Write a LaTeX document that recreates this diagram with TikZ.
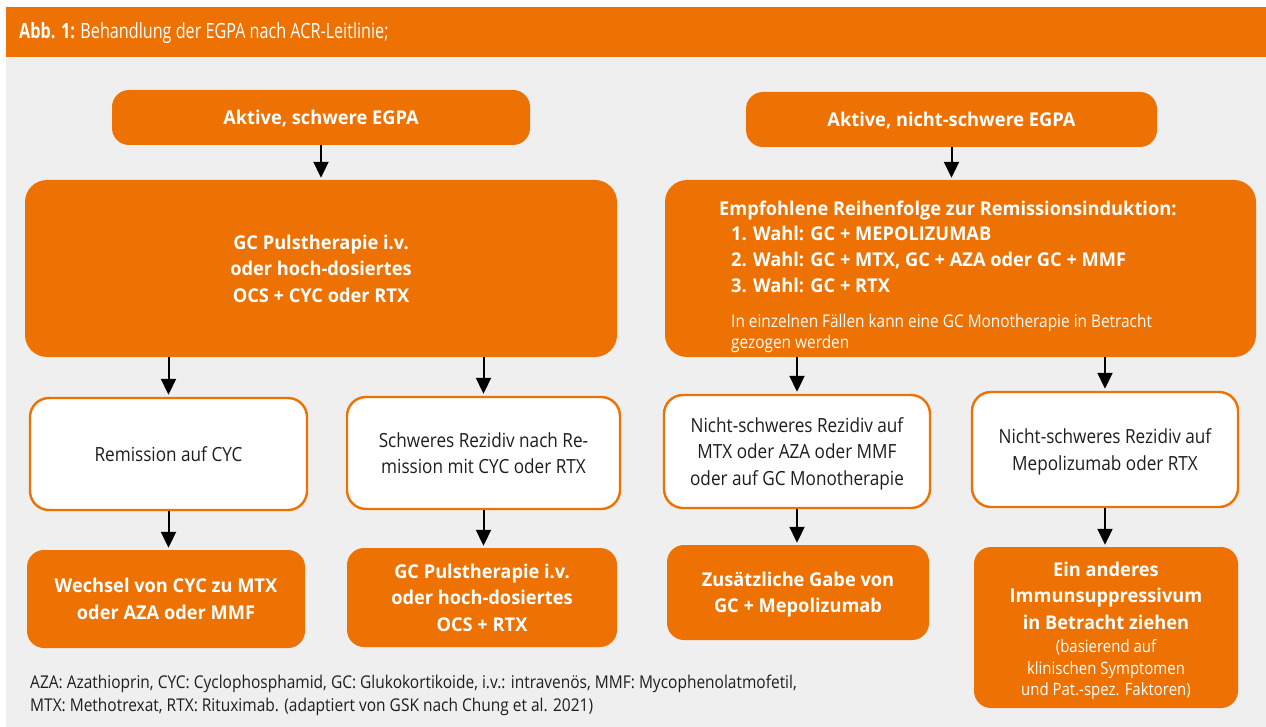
\documentclass[tikz,border=0pt]{standalone}
\usepackage{fontspec}
\setmainfont{Open Sans}[FakeStretch=0.88]
\newfontfamily\egbold{Open Sans}[FakeStretch=0.96]
\newfontfamily\egtitle{Open Sans}[FakeStretch=0.77]
\usetikzlibrary{arrows.meta}
\definecolor{egpaorange}{RGB}{237,114,3}
\definecolor{egpagray}{RGB}{239,239,239}
\definecolor{egpatext}{RGB}{30,30,30}
\newcommand\egsmall{\normalfont\fontsize{17}{21.5}\selectfont}
\tikzset{
  orangebox/.style={draw=none, fill=egpaorange, rounded corners=17pt, text=white, align=center, inner sep=0pt, text depth=0pt,
    font=\egbold\fontsize{19}{26.5}\selectfont\bfseries},
  whitebox/.style={draw=egpaorange, line width=2.4pt, fill=white, rounded corners=19pt, text=egpatext, align=center, inner sep=0pt, text depth=0pt,
    font=\fontsize{19.5}{26.5}\selectfont},
  flowarrow/.style={-{Triangle[width=15pt,length=16pt]}, line width=2pt, black, shorten >=2pt},
}
\begin{document}
\begin{tikzpicture}[x=1pt,y=-1pt]
\useasboundingbox (0,0) rectangle (1266,727);
\fill[white] (0,0) rectangle (1266,727);
\fill[egpagray] (6,57) rectangle (1266,727);
\fill[egpaorange] (6,7) rectangle (1266,57);
\node[anchor=west, text=white, font=\egtitle\fontsize{21}{24}\selectfont, inner sep=0pt] (title) at (19,33) {{\bfseries Abb. 1:} Behandlung der EGPA nach ACR-Leitlinie;};

% left column
\node[orangebox, minimum width=418pt, minimum height=55pt] (A1) at (321,117.5) {Aktive, schwere EGPA};
\node[orangebox, minimum width=592pt, minimum height=177pt, rounded corners=22pt] (B1) at (321,268.5) {GC Pulstherapie i.v.\\oder hoch-dosiertes\\OCS + CYC oder RTX};
\node[whitebox, minimum width=277pt, minimum height=112pt] (C1) at (168.5,454) {Remission auf CYC};
\node[whitebox, minimum width=273pt, minimum height=112pt] (C2) at (483.5,453) {Schweres Rezidiv nach Re-\\mission mit CYC oder RTX};
\node[orangebox, minimum width=278pt, minimum height=98pt] (D1) at (166,599) {Wechsel von CYC zu MTX\\oder AZA oder MMF};
\node[orangebox, minimum width=270pt, minimum height=99pt] (D2) at (482,597.5) {GC Pulstherapie i.v.\\oder hoch-dosiertes\\OCS + RTX};

% right column
\node[orangebox, minimum width=411pt, minimum height=55pt] (A2) at (951.5,119.5) {Aktive, nicht-schwere EGPA};
\node[orangebox, minimum width=591pt, minimum height=177pt, rounded corners=22pt] (B2) at (960.5,268.5) {};
\node[anchor=west, text=white, font=\egbold\fontsize{19}{26}\selectfont\bfseries, inner sep=0pt, align=left] (B2t) at (719,211) {Empfohlene Reihenfolge zur Remissionsinduktion:};
\node[anchor=north west, text=white, font=\egbold\fontsize{19}{26}\selectfont\bfseries, inner sep=0pt, align=left] (B2l) at (731,226) {1. Wahl: GC + MEPOLIZUMAB\\2. Wahl: GC + MTX, GC + AZA oder GC + MMF\\3. Wahl: GC + RTX};
\node[anchor=north west, text=white, font=\fontsize{17.5}{21}\selectfont, inner sep=0pt, align=left] (B2s) at (731,314) {In einzelnen Fällen kann eine GC Monotherapie in Betracht\\gezogen werden};
\node[whitebox, minimum width=266pt, minimum height=113pt] (C3) at (797,451.5) {Nicht-schweres Rezidiv auf\\MTX oder AZA oder MMF\\oder auf GC Monotherapie};
\node[whitebox, minimum width=266pt, minimum height=115pt] (C4) at (1105,449.5) {Nicht-schweres Rezidiv auf\\Mepolizumab oder RTX};
\node[orangebox, minimum width=262pt, minimum height=95pt] (D3) at (798,592.5) {Zusätzliche Gabe von\\GC + Mepolizumab};
\node[orangebox, minimum width=264pt, minimum height=161pt] (D4) at (1106,627.5) {};
\node[text=white, align=center, inner sep=0pt, font=\egbold\fontsize{19}{26.5}\selectfont\bfseries] (D4t) at (1106,631) {Ein anderes\\Immunsuppressivum\\in Betracht ziehen\\[-3pt]\egsmall (basierend auf\\[-5pt]\egsmall klinischen Symptomen\\[-5pt]\egsmall und Pat.-spez. Faktoren)};

% footnote
\node[anchor=north west, text=egpatext, font=\fontsize{17.6}{23}\selectfont, inner sep=0pt, align=left] (foot) at (30,675) {AZA: Azathioprin, CYC: Cyclophosphamid, GC: Glukokortikoide, i.v.: intravenös, MMF: Mycophenolatmofetil,\\MTX: Methotrexat, RTX: Rituximab. (adaptiert von GSK nach Chung et al. 2021)};

% arrows
\draw[flowarrow] (A1.south) -- (B1.north);
\draw[flowarrow] (A2.south) -- (A2.south |- B2.north);
\draw[flowarrow] (C1.north |- B1.south) -- (C1.north);
\draw[flowarrow] (C2.north |- B1.south) -- (C2.north);
\draw[flowarrow] (C1.south) -- (C1.south |- D1.north);
\draw[flowarrow] (C2.south) -- (C2.south |- D2.north);
\draw[flowarrow] (C3.north |- B2.south) -- (C3.north);
\draw[flowarrow] (C4.north |- B2.south) -- (C4.north);
\draw[flowarrow] (C3.south) -- (C3.south |- D3.north);
\draw[flowarrow] (C4.south) -- (C4.south |- D4.north);
\end{tikzpicture}
\end{document}
